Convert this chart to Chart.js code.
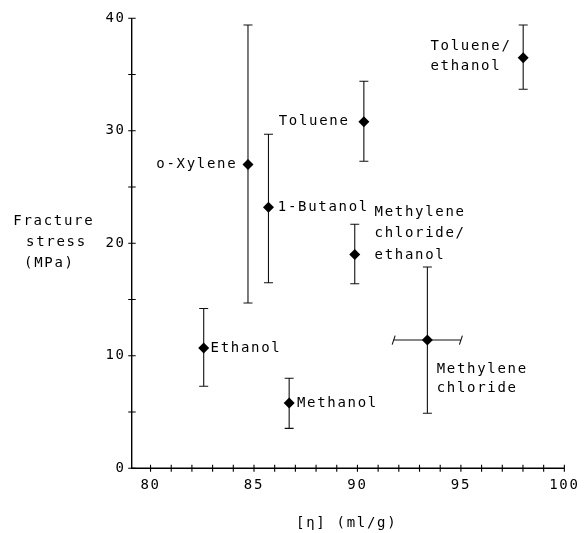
<!DOCTYPE html>
<html><head><meta charset="utf-8">
<script src="https://cdn.jsdelivr.net/npm/chart.js@4/dist/chart.umd.min.js"></script>
<style>html,body{margin:0;padding:0;background:#fff;}</style>
</head><body>
<canvas id="c" width="586" height="533" style="width:586px;height:533px;display:block"></canvas>
<script>
// ---- data ----
const solvents = ['o-Xylene','1-Butanol','Ethanol','Methanol','Toluene','Toluene/ethanol','Methylene chloride/ethanol','Methylene chloride'];
const labelLines = [['o-Xylene'],['1-Butanol'],['Ethanol'],['Methanol'],['Toluene'],['Toluene/','ethanol'],['Methylene','chloride/','ethanol'],['Methylene','chloride']];
const intrinsicViscosity = [84.71, 85.70, 82.57, 86.70, 90.31, 98.01, 89.87, 93.38];   // [η] ml/g
const fractureStress     = [27.0, 23.2, 10.7, 5.8, 30.8, 36.5, 19.0, 11.4];            // MPa
const stressLow          = [14.7, 16.5, 7.3, 3.55, 27.3, 33.7, 16.4, 4.9];
const stressHigh         = [39.4, 29.7, 14.2, 8.0, 34.4, 39.4, 21.7, 17.9];
const viscLow            = [null, null, null, null, null, null, null, 91.75];
const viscHigh           = [null, null, null, null, null, null, null, 95.0];
const xTickLabels = [80, 85, 90, 95, 100];
const yTickLabels = [0, 10, 20, 30, 40];
const xTitle = '[η] (ml/g)';
const yTitle = ['Fracture', 'stress', '(MPa)'];

// ---- styling (label placement relative to each point, in px) ----
const labelStyle = [
  {dx:-10.7, dy:[0], align:'right'},
  {dx:9.3,  dy:[0], align:'left'},
  {dx:6.8,  dy:[0], align:'left'},
  {dx:7.8,  dy:[0], align:'left'},
  {dx:-14.3,dy:[0], align:'right'},
  {dx:-92.7,dy:[-11.3, 8.7], align:'left'},
  {dx:19.8, dy:[-42.6, -21, 0.7], align:'left'},
  {dx:9.3,  dy:[29, 48.3], align:'left'}
];
const FONT = '14px "DejaVu Sans Mono"';
const INK = '#000';

const overlay = {
  id: 'overlay',
  beforeDraw(chart) { chart.ctx.letterSpacing = '1.7px'; },
  beforeDatasetsDraw(chart) {
    const {ctx, scales:{x, y}} = chart;
    ctx.save();
    ctx.strokeStyle = '#111';
    ctx.lineWidth = 1.1;
    for (let i = 0; i < solvents.length; i++) {
      const px = x.getPixelForValue(intrinsicViscosity[i]);
      const py = y.getPixelForValue(fractureStress[i]);
      const yl = y.getPixelForValue(stressLow[i]);
      const yh = y.getPixelForValue(stressHigh[i]);
      ctx.beginPath();
      ctx.moveTo(px, yl); ctx.lineTo(px, yh);
      ctx.moveTo(px - 4.5, yl); ctx.lineTo(px + 4.5, yl);
      ctx.moveTo(px - 4.5, yh); ctx.lineTo(px + 4.5, yh);
      ctx.stroke();
      if (viscLow[i] != null) {
        const xl = x.getPixelForValue(viscLow[i]);
        const xh = x.getPixelForValue(viscHigh[i]);
        ctx.beginPath();
        ctx.moveTo(xl, py); ctx.lineTo(xh, py);
        ctx.moveTo(xl - 1.5, py + 4.5); ctx.lineTo(xl + 1.5, py - 4.5);
        ctx.moveTo(xh - 1.5, py + 4.5); ctx.lineTo(xh + 1.5, py - 4.5);
        ctx.stroke();
      }
    }
    ctx.restore();
  },
  afterDraw(chart) {
    const {ctx, scales:{x, y}} = chart;
    ctx.save();
    // axes
    ctx.strokeStyle = INK;
    ctx.lineWidth = 1.4;
    const x0 = x.getPixelForValue(x.min), x1 = x.getPixelForValue(x.max);
    const y0 = y.getPixelForValue(0), y1 = y.getPixelForValue(y.max);
    ctx.beginPath();
    ctx.moveTo(x0, y1); ctx.lineTo(x0, y0); ctx.lineTo(x1, y0);
    ctx.stroke();
    ctx.lineWidth = 1.1;
    ctx.beginPath();
    for (let v = 0; v <= y.max; v += 5) {
      const py = y.getPixelForValue(v);
      ctx.moveTo(x0 - 3.5, py); ctx.lineTo(x0 + 4, py);
    }
    for (let v = Math.ceil(x.min); v <= x.max; v += 1) {
      const px = x.getPixelForValue(v);
      ctx.moveTo(px, y0 - 3.5); ctx.lineTo(px, y0 + 3.5);
    }
    ctx.stroke();
    // labels
    ctx.fillStyle = INK;
    ctx.font = FONT;
    ctx.letterSpacing = '1.7px';
    ctx.textBaseline = 'middle';
    for (let i = 0; i < solvents.length; i++) {
      const px = x.getPixelForValue(intrinsicViscosity[i]);
      const py = y.getPixelForValue(fractureStress[i]);
      const st = labelStyle[i];
      ctx.textAlign = st.align;
      labelLines[i].forEach((t, k) => ctx.fillText(t, px + st.dx, py + st.dy[k]));
    }
    // titles
    ctx.textAlign = 'left';
    const ytx = [13.3, 26, 24], yty = [221.7, 242.7, 263.3];
    yTitle.forEach((t, k) => ctx.fillText(t, ytx[k], yty[k]));
    ctx.fillText(xTitle, 296, 523);
    ctx.restore();
  }
};

new Chart(document.getElementById('c'), {
  type: 'scatter',
  data: {
    datasets: [{
      data: intrinsicViscosity.map((v, i) => ({x: v, y: fractureStress[i]})),
      pointStyle: 'rectRot',
      pointRadius: 5.5,
      backgroundColor: '#000',
      borderColor: '#000',
      borderWidth: 0
    }]
  },
  options: {
    responsive: false,
    animation: false,
    devicePixelRatio: 1,
    layout: {padding: {top: 18.3, right: 17.7, left: 0, bottom: 0}},
    plugins: {legend: {display: false}, tooltip: {enabled: false}},
    scales: {
      x: {
        type: 'linear', min: 79.09, max: 100,
        afterBuildTicks: s => { s.ticks = xTickLabels.map(v => ({value: v})); },
        afterFit: s => { s.height = 64.7; },
        grid: {display: false, drawTicks: false},
        border: {display: false},
        ticks: {color: INK, font: {family: 'DejaVu Sans Mono', size: 14}, padding: 9, maxRotation: 0, autoSkip: false}
      },
      y: {
        type: 'linear', min: 0, max: 40,
        afterBuildTicks: s => { s.ticks = yTickLabels.map(v => ({value: v})); },
        afterFit: s => { s.width = 131.7; },
        grid: {display: false, drawTicks: false},
        border: {display: false},
        ticks: {color: INK, font: {family: 'DejaVu Sans Mono', size: 14}, padding: 6, autoSkip: false}
      }
    }
  },
  plugins: [overlay]
});
</script>
</body></html>
